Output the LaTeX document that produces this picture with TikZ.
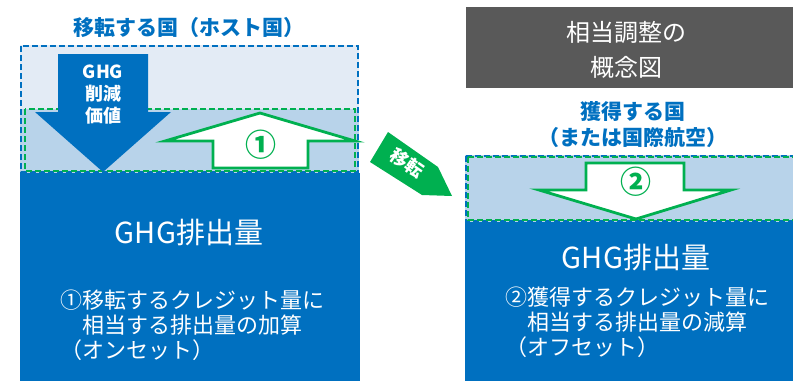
\documentclass[tikz,border=0pt]{standalone}
\usepackage{fontspec}
\setmainfont{Noto Sans CJK JP}
\definecolor{dblue}{HTML}{0070C0}
\definecolor{lblue}{HTML}{E3EBF5}
\definecolor{mblue}{HTML}{B8D3EA}
\definecolor{ggreen}{HTML}{00B050}
\definecolor{dgray}{HTML}{595959}
\tikzset{
  bluedash/.style={draw=dblue,line width=2.2pt,dash pattern=on 6pt off 3pt},
  greendash/.style={draw=ggreen,line width=2.2pt,dash pattern=on 6pt off 3pt},
  outarrow/.style={draw=ggreen,fill=white,line width=2.8pt,line join=miter},
  txt/.style={inner sep=0pt,align=center},
}
\newcommand{\fs}[2]{\fontsize{#1}{#2}\selectfont}
\begin{document}
\begin{tikzpicture}[x=1pt,y=-1pt]
\useasboundingbox (0,0) rectangle (793,381);
% left panel
\fill[lblue] (20,45) rectangle (359,173);
\fill[mblue] (20,109) rectangle (359,173);
\fill[dblue] (20,173) rectangle (360,381);
\draw[bluedash] (21,46) rectangle (358,172);
\draw[greendash] (25,109) rectangle (355,171);
% down arrow
\fill[dblue] (58,54) -- (148,54) -- (148,112) -- (171,112) -- (103,172) -- (35,112) -- (58,112) -- cycle;
\node[txt,text=white,font=\bfseries\fs{18}{22}] (gv) at (103,95) {GHG\\削減\\価値};
% up arrow
\draw[outarrow] (260,113) -- (355,141) -- (308,141) -- (308,168) -- (213,168) -- (213,141) -- (165,141) -- cycle;
\node[txt,text=ggreen,font=\bfseries\fs{31}{31}] (n1) at (261,145) {①};
% title left
\node[txt,text=dblue,font=\bfseries\fs{21}{24}] (tl) at (189,28) {移転する国（ホスト国）};
\node[txt,text=white,font=\fs{29}{32}] (gl) at (189,232) {GHG排出量};
\node[txt,align=left,anchor=north west,text=white,font=\fs{22}{25}] (bl) at (60,290) {①移転するクレジット量に\\　相当する排出量の加算\\（オンセット）};
% transfer arrow
\fill[ggreen] (388,132) -- (438,167) -- (452,196) -- (422,195) -- (370,162) -- cycle;
\node[txt,text=white,font=\bfseries\fs{18}{18},rotate=-35] (trf) at (407,163) {移転};
% right panel
\fill[dgray] (466,7) rectangle (800,88);
\node[txt,text=white,font=\fs{24}{35}] (gt) at (626,50) {相当調整の\\概念図};
\node[txt,text=dblue,font=\bfseries\fs{21}{26}] (acq) at (633,125) {獲得する国\\（または国際航空）};
\fill[mblue] (465,155) rectangle (800,222);
\fill[dblue] (465,222) rectangle (800,381);
\draw[bluedash] (466,156) rectangle (800,221);
\draw[greendash] (468,157) -- (800,157) (468,157) -- (468,220) -- (800,220);
\draw[outarrow] (586,163) -- (684,163) -- (684,190) -- (731,190) -- (636,219) -- (539,190) -- (586,190) -- cycle;
\node[txt,text=ggreen,font=\bfseries\fs{31}{31}] (n2) at (636,182) {②};
\node[txt,text=white,font=\fs{29}{32}] (gr) at (636,257) {GHG排出量};
\node[txt,align=left,anchor=north west,text=white,font=\fs{22}{25}] (br) at (505,287) {②獲得するクレジット量に\\　相当する排出量の減算\\（オフセット）};
\end{tikzpicture}
\end{document}
